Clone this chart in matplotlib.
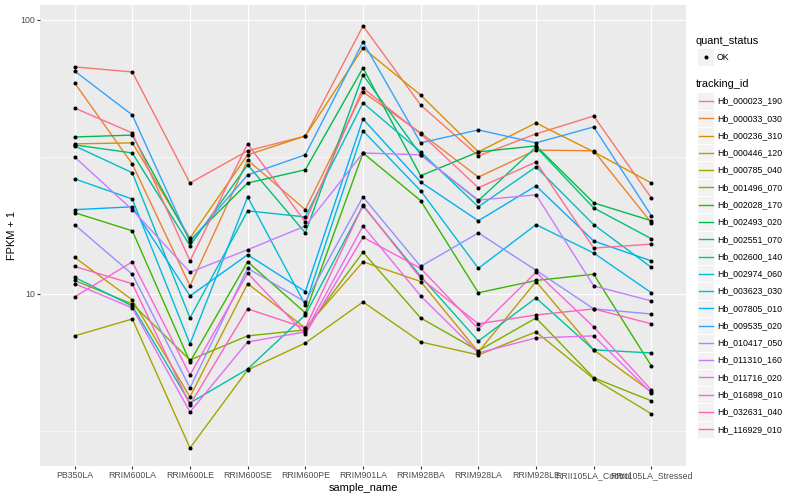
import matplotlib.pyplot as plt
from matplotlib.patches import Rectangle
from matplotlib.lines import Line2D
from matplotlib.ticker import FixedLocator
import numpy as np

plt.rcParams['font.family'] = ['Liberation Sans', 'DejaVu Sans']

samples = ['PB350LA', 'RRIM600LA', 'RRIM600LE', 'RRIM600SE', 'RRIM600PE',
           'RRIM901LA', 'RRIM928BA', 'RRIM928LA', 'RRIM928LE',
           'RRII105LA_Control', 'RRII105LA_Stressed']

# FPKM + 1 per gene, one value per sample
hb_000023_190 = [67.4, 64.6, 25.4, 33.3, 37.7, 95.1, 48.9, 31.9, 38.4, 44.6, 22.4]
hb_000033_030 = [58.9, 29.8, 10.7, 30.8, 20.3, 54.6, 38.7, 26.7, 33.5, 33.3, 18.2]
hb_000236_310 = [35.3, 35.6, 16.0, 32.2, 37.7, 79.0, 53.2, 33.0, 42.1, 33.0, 25.4]
hb_000446_120 = [13.6, 9.51, 4.21, 10.9, 7.51, 13.1, 11.1, 6.14, 11.1, 6.25, 4.39]
hb_000785_040 = [7.03, 8.10, 2.74, 5.28, 6.62, 9.35, 6.68, 5.99, 7.27, 4.90, 3.65]
hb_001496_070 = [11.2, 9.19, 5.74, 7.03, 7.39, 14.2, 8.17, 6.20, 8.17, 4.94, 4.07]
hb_002028_170 = [19.8, 17.0, 5.65, 13.1, 8.53, 32.7, 21.9, 10.1, 11.2, 11.8, 5.46]
hb_002493_020 = [37.4, 38.0, 15.7, 25.4, 28.4, 66.8, 27.0, 33.0, 34.7, 21.5, 18.5]
hb_002551_070 = [35.0, 32.7, 15.0, 29.6, 16.7, 63.0, 32.2, 21.9, 34.4, 20.6, 15.9]
hb_002600_140 = [11.5, 9.04, 4.00, 5.32, 8.38, 21.0, 11.6, 6.73, 9.67, 6.25, 6.09]
hb_002974_060 = [34.7, 27.7, 8.17, 20.1, 19.1, 49.8, 33.0, 20.8, 29.1, 17.9, 12.5]
hb_003623_030 = [26.3, 22.2, 6.57, 22.6, 9.12, 39.4, 23.8, 12.4, 17.9, 14.1, 10.1]
hb_007805_010 = [20.3, 20.8, 9.83, 13.9, 10.2, 43.5, 25.6, 18.5, 24.8, 15.6, 13.2]
hb_009535_020 = [65.1, 45.0, 15.5, 27.2, 32.2, 83.1, 35.6, 39.7, 35.6, 40.7, 19.3]
hb_010417_050 = [17.9, 11.8, 4.54, 12.4, 9.35, 22.6, 12.6, 16.7, 12.2, 8.82, 8.45]
hb_011310_160 = [31.6, 20.3, 12.0, 14.5, 17.7, 32.7, 32.2, 22.0, 23.0, 10.7, 9.43]
hb_011716_020 = [10.9, 8.89, 3.71, 6.68, 7.27, 17.7, 9.83, 6.09, 6.91, 7.03, 4.35]
hb_016898_010 = [9.75, 13.1, 5.06, 11.9, 7.14, 16.1, 12.4, 7.45, 12.0, 7.58, 4.46]
hb_032631_040 = [12.6, 10.9, 3.94, 8.82, 7.51, 21.1, 11.4, 7.78, 8.38, 8.82, 7.78]
hb_116929_010 = [47.7, 38.7, 13.2, 35.3, 18.3, 56.4, 38.4, 24.4, 30.3, 14.7, 15.2]

tracking_ids = ['Hb_000023_190', 'Hb_000033_030', 'Hb_000236_310', 'Hb_000446_120',
                'Hb_000785_040', 'Hb_001496_070', 'Hb_002028_170', 'Hb_002493_020',
                'Hb_002551_070', 'Hb_002600_140', 'Hb_002974_060', 'Hb_003623_030',
                'Hb_007805_010', 'Hb_009535_020', 'Hb_010417_050', 'Hb_011310_160',
                'Hb_011716_020', 'Hb_016898_010', 'Hb_032631_040', 'Hb_116929_010']
series = [hb_000023_190, hb_000033_030, hb_000236_310, hb_000446_120, hb_000785_040,
          hb_001496_070, hb_002028_170, hb_002493_020, hb_002551_070, hb_002600_140,
          hb_002974_060, hb_003623_030, hb_007805_010, hb_009535_020, hb_010417_050,
          hb_011310_160, hb_011716_020, hb_016898_010, hb_032631_040, hb_116929_010]

# ggplot hue palette, 20 levels
colors = ['#F8766D', '#EA8331', '#D89000', '#C09B00', '#A3A500', '#7CAE00', '#39B600',
          '#00BB4E', '#00BF7D', '#00C1A3', '#00BFC4', '#00BAE0', '#00B0F6', '#35A2FF',
          '#9590FF', '#C77CFF', '#E76BF3', '#FA62DB', '#FF62BC', '#FF6C91']

W, H = 800, 500
fig = plt.figure(figsize=(8, 5), dpi=100)

def fx(px):
    return px / W

def fy(py):
    return 1 - py / H

# panel: x 40..686, y 5..466 (pixels)
ax = fig.add_axes([fx(40), fy(466), (686 - 40) / W, (466 - 5) / H])
ax.set_facecolor('#EBEBEB')
for s in ax.spines.values():
    s.set_visible(False)

x = np.arange(len(samples))
for vals, col in zip(series, colors):
    ax.plot(x, vals, color=col, lw=1.0, zorder=2)
for vals in series:
    ax.plot(x, vals, 'o', color='black', markersize=2.9, markeredgewidth=0, zorder=3)

ax.set_yscale('log')
ax.set_ylim(2.355, 113.4)
ax.set_xlim(-0.6, len(samples) - 0.4)
ax.set_xticks(x)
ax.set_xticklabels(samples)
ax.yaxis.set_major_locator(FixedLocator([10, 100]))
ax.set_yticklabels(['10', '100'])
ax.yaxis.set_minor_locator(FixedLocator([10 ** 0.5, 10 ** 1.5]))
ax.yaxis.set_minor_formatter(plt.NullFormatter())
ax.tick_params(which='major', length=2, width=0.8, color='#333333',
               labelcolor='#4D4D4D', labelsize=6.3, pad=1.6)
ax.tick_params(which='minor', length=0)
ax.grid(which='major', color='white', lw=0.8, zorder=0)
ax.grid(which='minor', axis='y', color='white', lw=0.4, zorder=0)
ax.set_axisbelow(True)

ax.set_xlabel('sample_name', fontsize=7.9, va='center')
ax.xaxis.set_label_coords(0.5, -(488 - 466) / 461)
ax.set_ylabel('FPKM + 1', fontsize=7.9, va='center')
ax.yaxis.set_label_coords(-(40 - 12) / 646, 0.5)

# legends, drawn ggplot-style
fig.text(fx(696), fy(41), 'quant_status', fontsize=7.9, ha='left', va='center')
fig.patches.append(Rectangle((fx(697), fy(65.5)), 17 / W, 17 / H, transform=fig.transFigure,
                             facecolor='#F2F2F2', edgecolor='white', lw=0.7))
fig.lines.append(Line2D([fx(705.5)], [fy(57)], transform=fig.transFigure, marker='o',
                        color='black', markersize=2.9, markeredgewidth=0))
fig.text(fx(717), fy(57), 'OK', fontsize=6.3, ha='left', va='center')

fig.text(fx(696), fy(84), 'tracking_id', fontsize=7.9, ha='left', va='center')
for i, (name, col) in enumerate(zip(tracking_ids, colors)):
    yc = 101 + 17.28 * i
    fig.patches.append(Rectangle((fx(697), fy(yc + 8.6)), 17 / W, 17.28 / H,
                                 transform=fig.transFigure, facecolor='#F2F2F2',
                                 edgecolor='white', lw=0.7))
    fig.lines.append(Line2D([fx(698.5), fx(712.5)], [fy(yc), fy(yc)],
                            transform=fig.transFigure, color=col, lw=1.0))
    fig.text(fx(717), fy(yc), name, fontsize=6.3, ha='left', va='center')

fig.savefig('out.png', dpi=100)
